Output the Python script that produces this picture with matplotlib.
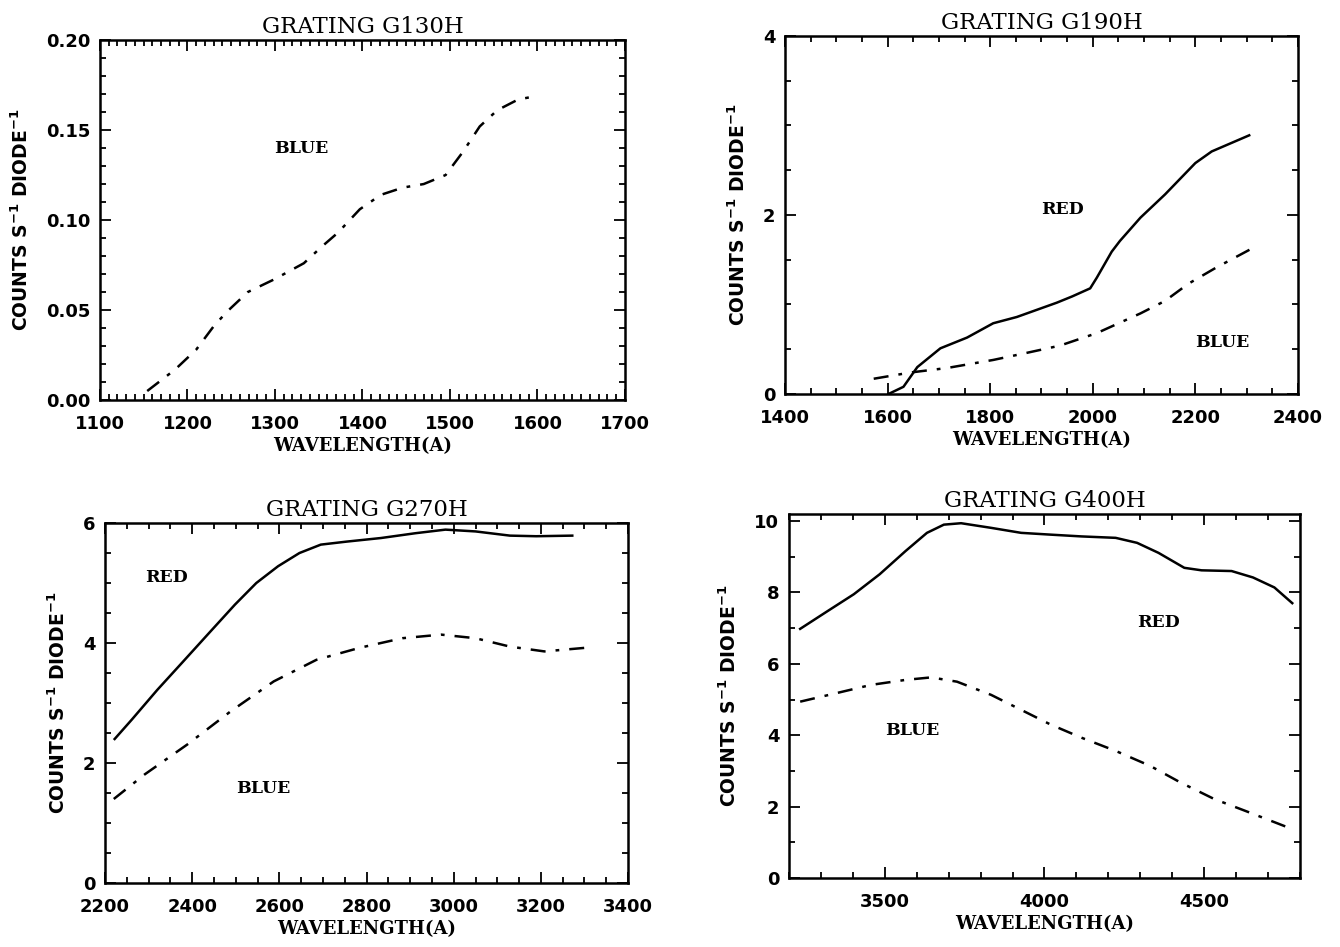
import numpy as np
import matplotlib
matplotlib.use("Agg")
import matplotlib.pyplot as plt
from matplotlib.ticker import MultipleLocator, FormatStrFormatter

plt.rcParams['font.family'] = ['DejaVu Sans']
plt.rcParams['font.weight'] = 'bold'
plt.rcParams['axes.labelweight'] = 'bold'
plt.rcParams['mathtext.default'] = 'bf'

# ---- data ----
# G130H
g130_blue_x = [1154, 1186, 1210, 1230, 1245, 1269, 1299, 1333, 1353, 1372, 1397, 1421,
               1446, 1470, 1495, 1515, 1534, 1554, 1578, 1600]
g130_blue_y = [0.005, 0.017, 0.028, 0.041, 0.049, 0.060, 0.067, 0.076, 0.085, 0.093,
               0.106, 0.114, 0.118, 0.120, 0.125, 0.138, 0.152, 0.161, 0.167, 0.169]

# G190H
g190_red_x = [1602, 1631, 1658, 1703, 1755, 1806, 1852, 1930, 1960, 1995, 2008, 2037,
              2053, 2093, 2141, 2200, 2232, 2305]
g190_red_y = [0.0, 0.08, 0.30, 0.51, 0.63, 0.79, 0.86, 1.02, 1.09, 1.18, 1.30, 1.59,
              1.71, 1.97, 2.23, 2.58, 2.71, 2.89]
g190_blue_x = [1573, 1645, 1716, 1806, 1872, 1936, 2008, 2093, 2141, 2186, 2240, 2315]
g190_blue_y = [0.17, 0.24, 0.29, 0.38, 0.46, 0.54, 0.68, 0.90, 1.04, 1.23, 1.41, 1.64]

# G270H
g270_red_x = [2222, 2261, 2320, 2379, 2439, 2498, 2547, 2597, 2646, 2695, 2754, 2833,
              2912, 2981, 3050, 3129, 3189, 3272]
g270_red_y = [2.40, 2.72, 3.22, 3.69, 4.17, 4.64, 5.00, 5.28, 5.50, 5.64, 5.69, 5.75,
              5.83, 5.89, 5.86, 5.79, 5.78, 5.79]
g270_blue_x = [2220, 2291, 2389, 2488, 2587, 2685, 2784, 2882, 2971, 3050, 3129, 3208, 3302]
g270_blue_y = [1.40, 1.81, 2.31, 2.86, 3.36, 3.72, 3.92, 4.08, 4.14, 4.08, 3.94, 3.86, 3.92]

# G400H
g400_red_x = [3235, 3323, 3403, 3484, 3565, 3632, 3685, 3739, 3833, 3927, 4019, 4116,
              4223, 4290, 4357, 4438, 4492, 4586, 4653, 4720, 4776]
g400_red_y = [6.98, 7.49, 7.95, 8.51, 9.16, 9.67, 9.90, 9.94, 9.81, 9.67, 9.62, 9.57,
              9.53, 9.39, 9.11, 8.69, 8.62, 8.60, 8.42, 8.14, 7.70]
g400_blue_x = [3235, 3349, 3457, 3565, 3645, 3726, 3833, 3927, 4019, 4116, 4223, 4331,
               4425, 4532, 4626, 4770]
g400_blue_y = [4.94, 5.18, 5.41, 5.55, 5.62, 5.50, 5.13, 4.71, 4.30, 3.93, 3.56, 3.14,
               2.68, 2.21, 1.89, 1.39]

fig = plt.figure(figsize=(13.4, 9.47), dpi=100)

DASHDOT = (6, 4, 1.5, 4)
LW = 1.8


def style(ax, title, xlim, ylim, xmaj, xmin, ymaj, ymin, yfmt):
    ax.set_xlim(*xlim)
    ax.set_ylim(*ylim)
    ax.xaxis.set_major_locator(MultipleLocator(xmaj))
    ax.xaxis.set_minor_locator(MultipleLocator(xmin))
    ax.yaxis.set_major_locator(MultipleLocator(ymaj))
    ax.yaxis.set_minor_locator(MultipleLocator(ymin))
    ax.yaxis.set_major_formatter(FormatStrFormatter(yfmt))
    ax.tick_params(which='both', direction='in', top=True, right=True,
                   labelsize=13, width=1.3, pad=7)
    ax.tick_params(axis='x', which='major', pad=11)
    ax.tick_params(which='major', length=8)
    ax.tick_params(which='minor', length=4)
    for s in ax.spines.values():
        s.set_linewidth(1.8)
    ax.set_title(title, fontsize=16.5, fontweight='normal', family='DejaVu Serif', pad=5)
    ax.set_xlabel('WAVELENGTH(A)', fontsize=13, family='DejaVu Serif', labelpad=3)
    ax.set_ylabel(r'COUNTS S$^{-1}$ DIODE$^{-1}$', fontsize=13.5, labelpad=10)


def label(ax, x, y, s):
    ax.text(x, y, s, fontsize=12.5, family='DejaVu Serif', fontweight='bold',
            ha='center', va='center')


ax1 = fig.add_axes([0.0746, 0.5776, 0.3918, 0.3801])
ax1.plot(g130_blue_x, g130_blue_y, color='black', lw=LW, dashes=DASHDOT)
label(ax1, 1330, 0.140, 'BLUE')
style(ax1, 'GRATING G130H', (1100, 1700), (0, 0.2), 100, 10, 0.05, 0.01, '%.2f')

ax2 = fig.add_axes([0.5858, 0.5840, 0.3828, 0.3780])
ax2.plot(g190_red_x, g190_red_y, color='black', lw=LW)
ax2.plot(g190_blue_x, g190_blue_y, color='black', lw=LW, dashes=DASHDOT)
label(ax2, 1942, 2.06, 'RED')
label(ax2, 2252, 0.57, 'BLUE')
style(ax2, 'GRATING G190H', (1400, 2400), (0, 4), 200, 50, 2, 0.5, '%d')

ax3 = fig.add_axes([0.0784, 0.0676, 0.3903, 0.3801])
ax3.plot(g270_red_x, g270_red_y, color='black', lw=LW)
ax3.plot(g270_blue_x, g270_blue_y, color='black', lw=LW, dashes=DASHDOT)
label(ax3, 2342, 5.1, 'RED')
label(ax3, 2562, 1.58, 'BLUE')
style(ax3, 'GRATING G270H', (2200, 3400), (0, 6), 200, 50, 2, 0.5, '%d')

ax4 = fig.add_axes([0.5888, 0.0729, 0.3813, 0.3844])
ax4.plot(g400_red_x, g400_red_y, color='black', lw=LW)
ax4.plot(g400_blue_x, g400_blue_y, color='black', lw=LW, dashes=DASHDOT)
label(ax4, 4358, 7.17, 'RED')
label(ax4, 3585, 4.12, 'BLUE')
style(ax4, 'GRATING G400H', (3200, 4800), (0, 10.2), 500, 100, 2, 1, '%d')

fig.savefig('out.png', dpi=100)
